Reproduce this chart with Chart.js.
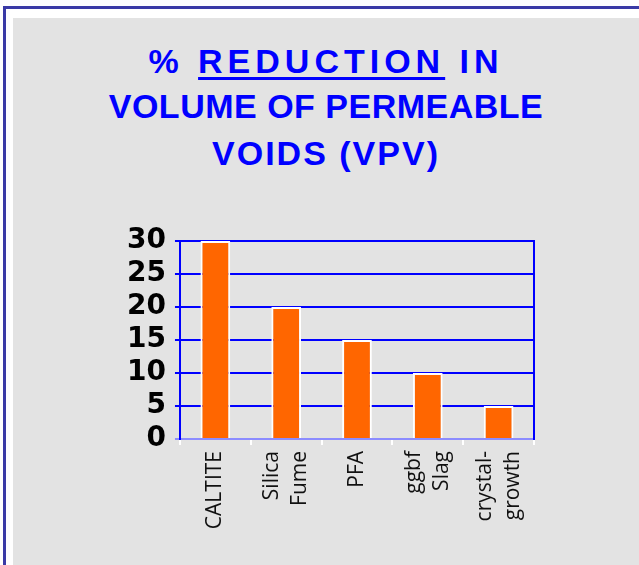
<!DOCTYPE html>
<html>
<head>
<meta charset="utf-8">
<script src="https://cdn.jsdelivr.net/npm/chart.js@4/dist/chart.umd.min.js"></script>
<style>
  html, body { margin: 0; padding: 0; background: #fff; }
  #page { position: relative; width: 639px; height: 565px; overflow: hidden; }
  #frameTop { position: absolute; left: 3px; top: 6px; width: 636px; height: 3px; background: #3a3aa6; }
  #frameLeft { position: absolute; left: 3px; top: 6px; width: 3px; height: 559px; background: #3a3aa6; }
  #paper { position: absolute; left: 13px; top: 18px; right: 0; bottom: 0; background: #e3e3e3; }
  .tline {
    position: absolute; left: 13px; right: 0; text-align: center;
    font-family: "Liberation Sans", Arial, sans-serif; font-weight: bold;
    font-size: 34px; line-height: 34px; color: #0000ff; white-space: nowrap;
  }
  .tline u { text-decoration-thickness: 3px; text-underline-offset: 4px; }
  #chartBox { position: absolute; left: 0; top: 0; width: 639px; height: 565px; }
</style>
</head>
<body>
<div id="page">
  <div id="frameTop"></div>
  <div id="frameLeft"></div>
  <div id="paper"></div>
  <div class="tline" style="top:44px; letter-spacing:5px;">% <u>REDUCTION</u> IN</div>
  <div class="tline" style="top:89px; letter-spacing:0.5px;">VOLUME OF PERMEABLE</div>
  <div class="tline" style="top:136px; letter-spacing:2px;">VOIDS (VPV)</div>
  <div id="chartBox"><canvas id="vpvChart"></canvas></div>
</div>
<script>
const categories = ['CALTITE', ['Silica', 'Fume'], 'PFA', ['ggbf', 'Slag'], ['crystal-', 'growth']];
const reduction = [30, 20, 15, 10, 5];
const yTicks = [0, 5, 10, 15, 20, 25, 30];

const BLUE = '#0000ff';
const AXIS_BLUE = '#8c8cff';
const X_FONT = '21px "Open Sans", sans-serif';
const X_LINE = 28;

// Rotated category labels, each line centred around its tick (Chart.js puts
// the first line on the tick when labels are rotated)
const xLabels = {
  id: 'xLabels',
  afterDraw(chart) {
    const xs = chart.scales.x;
    const ctx = chart.ctx;
    ctx.save();
    ctx.font = X_FONT;
    ctx.fillStyle = '#111';
    ctx.textAlign = 'right';
    ctx.textBaseline = 'middle';
    categories.forEach((label, i) => {
      const lines = [].concat(label);
      const px = xs.getPixelForTick(i);
      lines.forEach((line, j) => {
        const lx = px + (j - (lines.length - 1) / 2) * X_LINE;
        ctx.save();
        ctx.translate(lx, xs.top + 12);
        ctx.rotate(-Math.PI / 2);
        ctx.fillText(line, 0, 0);
        ctx.restore();
      });
    });
    ctx.restore();
  },
};

new Chart(document.getElementById('vpvChart'), {
  type: 'bar',
  data: {
    labels: categories,
    datasets: [{
      data: reduction,
      backgroundColor: '#ff6600',
      borderColor: '#ffffff',
      borderWidth: 2,
      barPercentage: 0.42,
      categoryPercentage: 1,
    }],
  },
  options: {
    responsive: true,
    maintainAspectRatio: false,
    animation: false,
    layout: { padding: { left: 118, right: 105, top: 241, bottom: 120 } },
    plugins: { legend: { display: false }, tooltip: { enabled: false } },
    scales: {
      x: {
        border: { display: true, color: AXIS_BLUE, width: 2 },
        grid: { drawOnChartArea: false, color: '#ffffff', tickLength: 6, lineWidth: 2 },
        ticks: { display: false },
      },
      y: {
        min: 0,
        max: 30,
        afterBuildTicks: axis => { axis.ticks = yTicks.map(v => ({ value: v })); },
        border: { display: true, color: BLUE, width: 2 },
        grid: {
          color: ctx => (ctx.tick && ctx.tick.value === 0 ? AXIS_BLUE : BLUE),
          lineWidth: 2,
          tickLength: 5,
        },
        ticks: {
          color: '#000',
          font: { family: '"DejaVu Sans", sans-serif', size: 28, weight: 'bold' },
          autoSkip: false,
          padding: 9,
        },
      },
      yRight: {
        position: 'right',
        min: 0,
        max: 30,
        border: { display: true, color: BLUE, width: 2 },
        grid: { drawOnChartArea: false, drawTicks: false },
        ticks: { display: false },
      },
    },
  },
  plugins: [xLabels],
});
</script>
</body>
</html>
